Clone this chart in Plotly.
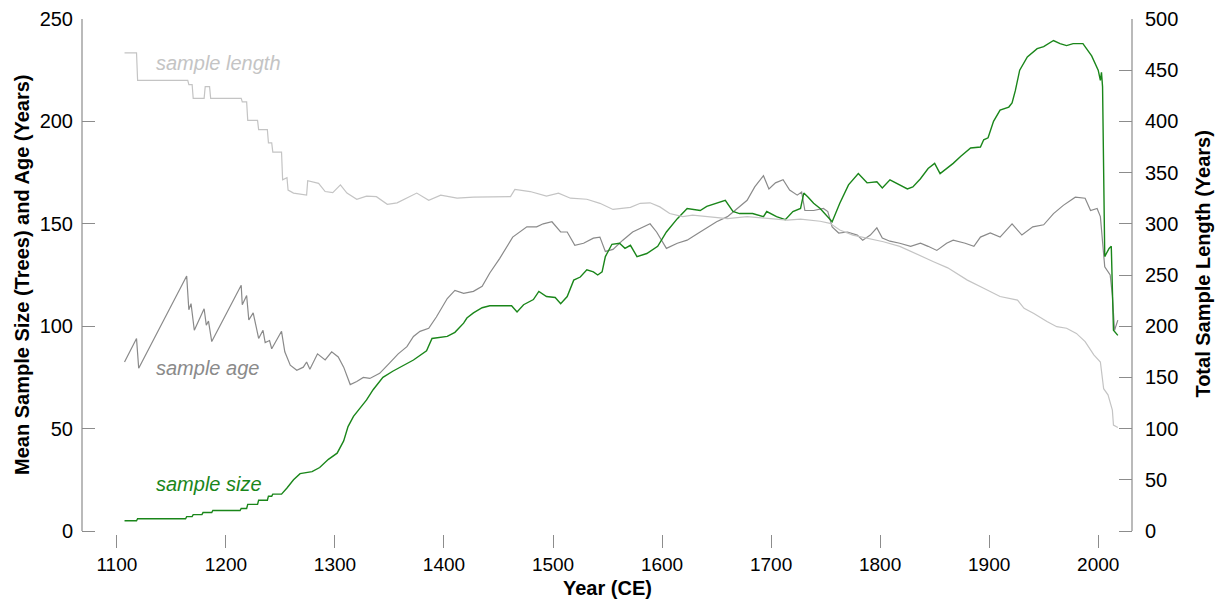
import plotly.graph_objects as go

# ---- sample size (trees), left axis ----
size_years = [1107, 1118, 1119, 1163, 1164, 1169, 1170, 1178, 1179, 1187, 1188, 1213, 1214, 1219, 1220,
              1229, 1230, 1238, 1239, 1242, 1243, 1251, 1256, 1262, 1268, 1279, 1286, 1294, 1302, 1308,
              1312, 1317, 1323, 1329, 1335, 1344, 1353, 1360, 1372, 1384, 1389, 1403, 1410, 1418, 1421,
              1427, 1435, 1442, 1462, 1467, 1473, 1482, 1487, 1494, 1502, 1507, 1513, 1519, 1525, 1531,
              1537, 1541, 1545, 1548, 1554, 1561, 1566, 1571, 1577, 1586, 1596, 1604, 1614, 1623, 1635,
              1641, 1649, 1658, 1665, 1671, 1683, 1693, 1696, 1705, 1713, 1720, 1727, 1730, 1734, 1739,
              1745, 1756, 1763, 1771, 1780, 1788, 1797, 1802, 1809, 1818, 1825, 1830, 1837, 1844, 1850,
              1855, 1864, 1867, 1874, 1883, 1892, 1895, 1899, 1904, 1910, 1918, 1921, 1924, 1928, 1935,
              1944, 1950, 1959, 1965, 1971, 1977, 1986, 1990, 1994, 2000, 2002, 2003, 2004, 2006, 2010,
              2012, 2013, 2014, 2018]
size_values = [5, 5, 6, 6, 7, 7, 8, 8, 9, 9, 10, 10, 11, 11, 13,
               13, 15, 15, 17, 17, 18, 18, 21, 25, 28, 29, 31, 35, 38, 44,
               51, 56, 60, 64, 69, 75, 78, 80, 83.5, 88, 94, 95, 97, 101.5, 104,
               106.5, 109, 110, 110, 107, 110.5, 113, 117, 114.5, 114, 111, 114.5, 122.5, 124, 127.5,
               126.5, 125, 126.5, 134, 140, 140.5, 138, 139.5, 134, 135.5, 139, 146, 152.5, 157.5, 156.5,
               158.5, 160, 161.5, 156, 155, 155, 153.5, 156, 153.5, 152, 156, 157.5, 165, 163, 160,
               157.5, 151, 160, 169, 174.5, 170, 170.5, 167.5, 171.5, 169, 167, 168, 172, 177, 179.5,
               174.5, 178, 179.5, 183, 187, 187.5, 191, 192, 200, 205.5, 207, 209, 215, 225, 231.5,
               235.5, 236.5, 239.5, 238, 237, 238, 238, 235, 232, 225, 220, 224, 217, 134, 138,
               139, 121, 98, 95.5]

# ---- sample age (years), left axis ----
age_years = [1107, 1118, 1120, 1164, 1166, 1168, 1171, 1180, 1182, 1184, 1187, 1214, 1215, 1219, 1221,
             1225, 1230, 1234, 1236, 1240, 1242, 1251, 1254, 1259, 1265, 1271, 1274, 1277, 1284, 1291,
             1297, 1303, 1308, 1314, 1320, 1326, 1332, 1341, 1350, 1358, 1366, 1372, 1378, 1386, 1393,
             1403, 1410, 1418, 1427, 1435, 1442, 1451, 1463, 1476, 1485, 1491, 1499, 1507, 1513, 1520,
             1528, 1537, 1543, 1548, 1555, 1564, 1573, 1583, 1589, 1595, 1604, 1614, 1623, 1632, 1641,
             1650, 1660, 1669, 1678, 1685, 1693, 1698, 1704, 1711, 1717, 1724, 1728, 1731, 1739, 1748,
             1752, 1756, 1762, 1770, 1779, 1784, 1791, 1797, 1802, 1809, 1818, 1828, 1837, 1844, 1852,
             1861, 1867, 1878, 1886, 1892, 1901, 1910, 1921, 1930, 1940, 1950, 1959, 1968, 1979, 1988,
             1993, 1999, 2002, 2006, 2011, 2013, 2015, 2018]
age_values = [82.5, 94, 79.5, 124.5, 108, 111, 98, 108.5, 100.5, 102.5, 92.5, 120, 110.5, 115, 103,
              106.5, 94, 98, 92, 93, 89, 97.5, 87.5, 81, 78.5, 80, 82.5, 79, 86.5, 83.5,
              87.5, 85, 80, 71.5, 73, 75, 74.5, 77, 82, 86.5, 90, 95, 97.5, 99, 104.5,
              113.5, 117.5, 116, 117, 119.5, 126, 133, 143.5, 148.5, 148.5, 150, 151, 146, 146, 139.5,
              140.5, 143, 143.5, 136.5, 137.5, 142, 146, 148.5, 150, 146, 138, 140.5, 142, 145, 148,
              151, 153.5, 157.5, 161.5, 168, 173.5, 167, 170, 171.5, 166.5, 164, 165.5, 156.5, 156.5, 157.5,
              156, 148.5, 145.5, 146, 144.5, 142, 144.5, 148, 143, 141.5, 140.5, 139, 140.5, 139, 137,
              140.5, 142, 140.5, 139, 143.5, 145.5, 143.5, 150, 144.5, 148.5, 149.5, 155, 159, 163, 162.5,
              156.5, 157.5, 153.5, 129, 125, 115, 98, 103]

# ---- total sample length (years), right axis ----
length_years = [1107, 1118, 1119, 1165, 1166, 1169, 1170, 1180, 1181, 1185, 1186, 1214, 1215, 1219, 1220,
                1229, 1230, 1238, 1239, 1242, 1243, 1251, 1252, 1256, 1257, 1262, 1274, 1275, 1285, 1291,
                1298, 1305, 1311, 1320, 1329, 1338, 1348, 1357, 1375, 1386, 1397, 1412, 1427, 1445, 1461,
                1465, 1479, 1494, 1505, 1516, 1531, 1543, 1555, 1571, 1580, 1589, 1598, 1607, 1619, 1628,
                1644, 1660, 1678, 1696, 1715, 1727, 1745, 1754, 1763, 1775, 1788, 1803, 1818, 1834, 1849,
                1862, 1880, 1895, 1910, 1926, 1932, 1941, 1953, 1962, 1971, 1980, 1988, 1996, 2002, 2005,
                2009, 2013, 2014, 2018]
length_values = [467, 467, 440, 440, 436, 436, 422.5, 422.5, 434, 434, 422.5, 422.5, 419, 419, 401,
                 401, 392, 392, 379, 379, 370, 370, 343, 345, 333, 330, 328, 342, 339.5, 331.5,
                 330.5, 338, 330, 324, 327, 326.5, 319, 320.5, 330, 323, 328, 325, 326, 326, 326.5,
                 333.5, 331.5, 327, 330, 325, 324, 320, 314, 316, 320, 320.5, 316.5, 310, 307, 308.5,
                 307, 305, 307, 305, 303.5, 304.5, 302.5, 300.5, 294, 289, 286, 282.5, 278, 270, 263,
                 257, 245, 237, 229, 225.5, 217.5, 212.5, 204.5, 199.5, 198, 193, 185, 172, 165, 139,
                 133, 118, 103.5, 101]

left_ticks = [0, 50, 100, 150, 200, 250]
right_ticks = [0, 50, 100, 150, 200, 250, 300, 350, 400, 450, 500]
x_ticks = [1100, 1200, 1300, 1400, 1500, 1600, 1700, 1800, 1900, 2000]

GREEN = "#1a861a"
AGE = "#8a8a8a"
LEN = "#c4c4c4"
AXIS = "#8c8c8c"
FONT = "Liberation Sans, Arial, sans-serif"

fig = go.Figure()
fig.add_trace(go.Scatter(x=length_years, y=length_values, mode="lines", yaxis="y2",
                         line=dict(color=LEN, width=1.2), hoverinfo="skip"))
fig.add_trace(go.Scatter(x=age_years, y=age_values, mode="lines",
                         line=dict(color=AGE, width=1.2), hoverinfo="skip"))
fig.add_trace(go.Scatter(x=size_years, y=size_values, mode="lines",
                         line=dict(color=GREEN, width=1.4), hoverinfo="skip"))

# plot area on the page: x 82..1132 px, y 19..534 px (1050 x 515)
fig.update_layout(
    width=1220, height=601,
    margin=dict(l=82, r=88, t=19, b=67, autoexpand=False),
    paper_bgcolor="white", plot_bgcolor="white",
    showlegend=False,
    font=dict(family=FONT, color="black", size=19),
    xaxis=dict(range=[1068, 2031], tickvals=x_ticks, ticks="outside", ticklen=13,
               tickcolor=AXIS, tickwidth=1, showgrid=False, zeroline=False, showline=False,
               tickfont=dict(size=19), automargin=False),
    yaxis=dict(range=[-1.465, 250], tickvals=left_ticks, ticks="inside", ticklen=13,
               tickcolor=AXIS, tickwidth=1, showgrid=False, zeroline=False, showline=False,
               tickfont=dict(size=20), ticklabelstandoff=8, automargin=False),
    yaxis2=dict(range=[-2.93, 500], tickvals=right_ticks, ticks="inside", ticklen=13,
                tickcolor=AXIS, tickwidth=1, showgrid=False, zeroline=False, showline=False,
                overlaying="y", side="right", automargin=False,
                tickfont=dict(size=20), ticklabelstandoff=12),
    shapes=[
        dict(type="line", xref="paper", yref="y", x0=0, x1=0, y0=0, y1=250,
             line=dict(color=AXIS, width=1.2)),
        dict(type="line", xref="paper", yref="y2", x0=1, x1=1, y0=0, y1=500,
             line=dict(color=AXIS, width=1.2)),
    ],
    annotations=[
        dict(x=1134, y=228.5, xref="x", yref="y", text="<i>sample length</i>", showarrow=False,
             xanchor="left", yanchor="middle", font=dict(size=20, color=LEN)),
        dict(x=1134, y=79.6, xref="x", yref="y", text="<i>sample age</i>", showarrow=False,
             xanchor="left", yanchor="middle", font=dict(size=20, color=AGE)),
        dict(x=1134, y=23, xref="x", yref="y", text="<i>sample size</i>", showarrow=False,
             xanchor="left", yanchor="middle", font=dict(size=20, color=GREEN)),
        dict(x=0.5, y=-0.1049, xref="paper", yref="paper", text="<b>Year (CE)</b>",
             showarrow=False, xanchor="center", yanchor="middle", font=dict(size=20)),
        dict(x=-0.0571, y=0.503, xref="paper", yref="paper",
             text="<b>Mean Sample Size (Trees) and Age (Years)</b>", textangle=-90,
             showarrow=False, xanchor="center", yanchor="middle", font=dict(size=20)),
        dict(x=1.0676, y=0.525, xref="paper", yref="paper",
             text="<b>Total Sample Length (Years)</b>", textangle=-90,
             showarrow=False, xanchor="center", yanchor="middle", font=dict(size=20)),
    ],
)

fig.write_html(
    "out.html",
    config=dict(displayModeBar=False, staticPlot=True),
    post_script="document.body.style.margin='0px';document.body.style.overflow='hidden';",
)
